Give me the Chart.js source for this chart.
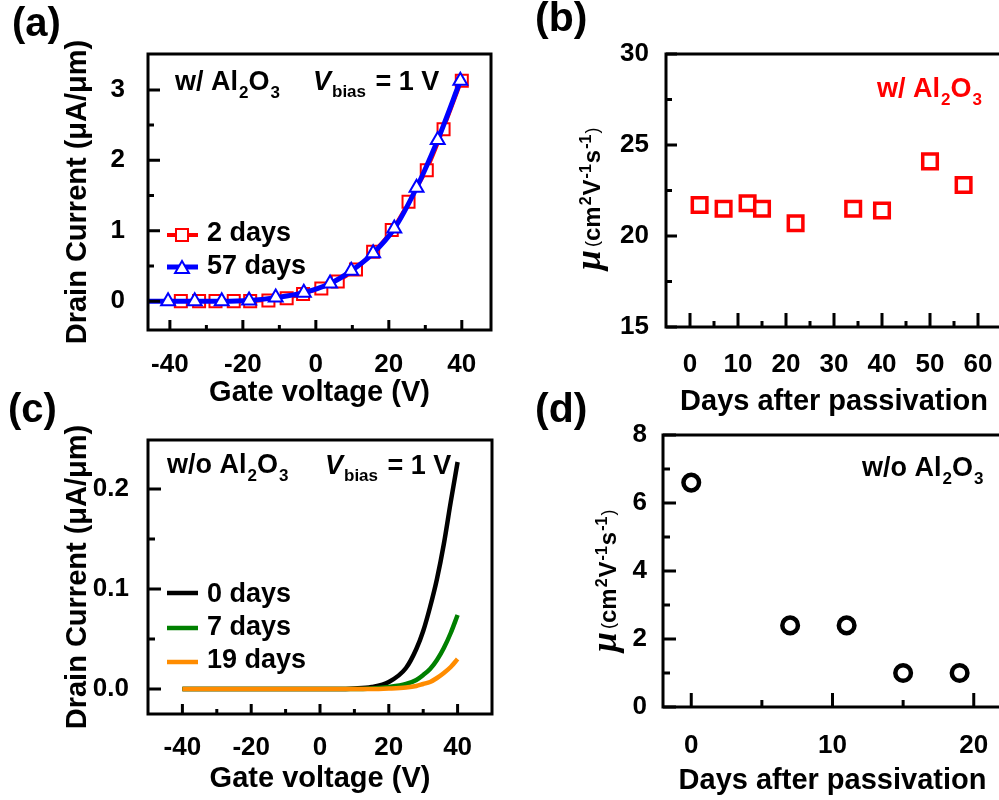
<!DOCTYPE html>
<html><head><meta charset="utf-8">
<script src="https://cdn.jsdelivr.net/npm/chart.js@4.4.1/dist/chart.umd.min.js"></script>
<style>
html,body{margin:0;padding:0;background:#fff;}
body{width:999px;height:800px;overflow:hidden;position:relative;}
canvas{position:absolute;}
</style></head><body>
<canvas id="cA" width="500" height="420" style="left:0;top:0"></canvas>
<canvas id="cB" width="520" height="420" style="left:500px;top:0"></canvas>
<canvas id="cC" width="500" height="420" style="left:0;top:380px"></canvas>
<canvas id="cD" width="520" height="420" style="left:500px;top:380px"></canvas>
<script>
// ---------------- DATA ----------------
// (a) with Al2O3 transfer curves
const gateA_2days  = [-46, -37, -32, -27.5, -22.5, -18, -13, -8, -3.5, 1.5, 6, 11, 15.7, 20.8, 25.4, 30.4, 35, 40];
const currA_2days  = [0, 0, 0, 0, 0, 0, 0.01, 0.04, 0.1, 0.18, 0.28, 0.45, 0.7, 1.01, 1.41, 1.86, 2.44, 3.13];
const gateA_57days = [-46, -40.5, -33.2, -25.8, -18.3, -11, -3.3, 3.9, 9.7, 15.7, 21.5, 27.6, 33.4, 39.6];
const currA_57days = [0, 0, 0, 0, 0.01, 0.05, 0.12, 0.25, 0.43, 0.68, 1.03, 1.61, 2.29, 3.13];
const xTicksA = [-40, -20, 0, 20, 40];
const yTicksA = [0, 1, 2, 3];

// (b) mobility with Al2O3
const daysB = [2, 7, 12, 15, 22, 34, 40, 50, 57];
const mobB  = [21.7, 21.5, 21.8, 21.5, 20.7, 21.5, 21.4, 24.1, 22.8];
const xTicksB = [0, 10, 20, 30, 40, 50, 60];
const yTicksB = [15, 20, 25, 30];

// (c) without Al2O3 transfer curves
const gateC   = [-40, -35, -30, -25, -20, -15, -10, -5, 0, 5, 10, 15, 20, 25, 28, 30, 32, 34, 36, 38, 40];
const currC_0 = [0, 0, 0, 0, 0, 0, 0, 0, 0, 0, 0.0005, 0.002, 0.007, 0.021, 0.04, 0.058, 0.082, 0.11, 0.145, 0.187, 0.227];
const currC_7 = [0, 0, 0, 0, 0, 0, 0, 0, 0, 0, 0, 0.0005, 0.002, 0.005, 0.009, 0.014, 0.02, 0.029, 0.041, 0.056, 0.074];
const currC_19= [0, 0, 0, 0, 0, 0, 0, 0, 0, 0, 0, 0, 0.0005, 0.0015, 0.003, 0.005, 0.007, 0.011, 0.016, 0.022, 0.030];
const xTicksC = [-40, -20, 0, 20, 40];
const yTicksC = [0, 0.1, 0.2];

// (d) mobility without Al2O3
const daysD = [0, 7, 11, 15, 19];
const mobD  = [6.6, 2.4, 2.4, 1.0, 1.0];
const xTicksD = [0, 10, 20];
const yTicksD = [0, 2, 4, 6, 8];

// ---------------- HELPERS ----------------
const SANS = '"Liberation Sans", Arial, sans-serif';
const SERIF = '"Liberation Serif", "Times New Roman", serif';
const F = (style, size, fam) => `${style} ${size}px ${fam || SANS}`;
Chart.defaults.font.family = SANS;
Chart.defaults.font.weight = 'bold';
Chart.defaults.color = '#000';

const pts = (xs, ys) => xs.map((x, i) => ({x, y: ys[i]}));

function rich(ctx, x, y, parts, rot) {
  ctx.save();
  ctx.translate(x, y);
  if (rot) ctx.rotate(rot);
  let cx = 0;
  for (const p of parts) {
    cx += p.gap || 0;
    ctx.font = p.font;
    ctx.fillStyle = p.color || '#000';
    ctx.textBaseline = 'alphabetic';
    ctx.textAlign = 'left';
    ctx.fillText(p.t, cx, p.dy || 0);
    cx += ctx.measureText(p.t).width;
  }
  ctx.restore();
}

function drawMarker(ctx, style, x, y, r, color, lw) {
  ctx.fillStyle = '#fff'; ctx.strokeStyle = color; ctx.lineWidth = lw;
  Chart.helpers.drawPoint(ctx, {pointStyle: style, radius: r, borderWidth: lw, rotation: 0}, x, y);
}

const framePlugin = {
  id: 'frame',
  afterDatasetsDraw(chart, args, o) {
    const {ctx, chartArea: a, scales: {x, y}} = chart;
    ctx.save();
    ctx.strokeStyle = '#000';
    ctx.lineWidth = o.lw;
    ctx.lineCap = 'butt';
    ctx.beginPath();
    x.ticks.forEach(t => { const p = x.getPixelForValue(t.value); ctx.moveTo(p, a.bottom); ctx.lineTo(p, a.bottom - o.xMajor); });
    (o.xMinorVals || []).forEach(v => { const p = x.getPixelForValue(v); ctx.moveTo(p, a.bottom); ctx.lineTo(p, a.bottom - o.xMinor); });
    y.ticks.forEach(t => { const p = y.getPixelForValue(t.value); ctx.moveTo(a.left, p); ctx.lineTo(a.left + o.yMajor, p); });
    (o.yMinorVals || []).forEach(v => { const p = y.getPixelForValue(v); ctx.moveTo(a.left, p); ctx.lineTo(a.left + o.yMinor, p); });
    ctx.stroke();
    ctx.strokeRect(a.left, a.top, a.right - a.left, a.bottom - a.top);
    ctx.restore();
  }
};

const notesPlugin = {
  id: 'notes',
  afterDraw(chart, args, o) {
    const ctx = chart.ctx;
    (o.items || []).forEach(it => {
      ctx.save();
      if (it.type === 'line') {
        ctx.strokeStyle = it.color; ctx.lineWidth = it.lw; ctx.lineCap = 'butt';
        ctx.beginPath(); ctx.moveTo(it.x1, it.y); ctx.lineTo(it.x2, it.y); ctx.stroke();
      } else if (it.type === 'marker') {
        drawMarker(ctx, it.style, it.x, it.y, it.r, it.color, it.lw);
      } else {
        rich(ctx, it.x, it.y, it.parts, it.rot || 0);
      }
      ctx.restore();
    });
  }
};
Chart.register(framePlugin, notesPlugin);

function axis(cfg) {
  const s = {
    type: 'linear', min: cfg.min, max: cfg.max,
    grid: {display: false}, border: {display: false},
    afterBuildTicks: sc => { sc.ticks = cfg.ticks.map(v => ({value: v})); },
    ticks: {font: {size: 26, weight: 'bold'}, padding: cfg.pad, color: '#000', autoSkip: false, maxRotation: 0,
            callback: cfg.fmt || (v => String(v))},
    title: cfg.title ? {display: true, text: cfg.title, color: '#000', font: {size: 29, weight: 'bold'}, padding: cfg.titlePad} : {display: false}
  };
  if (cfg.h !== undefined) s.afterFit = sc => { sc.height = cfg.h; };
  if (cfg.w !== undefined) s.afterFit = sc => { sc.width = cfg.w; };
  return s;
}

function baseOpts(box, scales, frame, notes) {
  return {
    responsive: false, animation: false, devicePixelRatio: 1,
    layout: {autoPadding: false, padding: {left: 0, top: box.t, right: box.W - box.r, bottom: 0}},
    scales,
    plugins: {legend: {display: false}, tooltip: {enabled: false}, frame, notes: {items: notes}}
  };
}

const subParts = (pre, color) => [
  {t: pre, font: F('bold', 27), color},
  {t: '2', font: F('bold', 17), dy: 8, color, gap: 1},
  {t: 'O', font: F('bold', 27), color},
  {t: '3', font: F('bold', 17), dy: 8, color, gap: 1}
];
const vbias = [
  {t: 'V', font: F('italic bold', 27)},
  {t: 'bias', font: F('bold', 17), dy: 7, gap: 1},
  {t: ' = 1 V', font: F('bold', 27), gap: 2}
];
const muTitle = [
  {t: 'μ', font: F('italic bold', 36, SERIF)},
  {t: '(', font: F('normal', 18), gap: 3, dy: -2},
  {t: 'cm', font: F('bold', 24)},
  {t: '2', font: F('bold', 16), dy: -9, gap: 1},
  {t: 'V', font: F('bold', 24), gap: 1},
  {t: '-1', font: F('bold', 16), dy: -9, gap: 1},
  {t: 's', font: F('bold', 24), gap: 1},
  {t: '-1', font: F('bold', 16), dy: -9, gap: 1},
  {t: ')', font: F('normal', 18), dy: -2, gap: 1}
];

// ---------------- (a) ----------------
{
  const box = {W: 500, H: 420, l: 148, r: 491, t: 54, b: 330};
  new Chart(document.getElementById('cA'), {
    type: 'line',
    data: {datasets: [
      {label: '57 days', data: pts(gateA_57days, currA_57days), order: 0,
       borderColor: '#0000ff', borderWidth: 5, cubicInterpolationMode: 'monotone',
       pointStyle: 'triangle', pointRadius: c => c.dataIndex === 0 ? 0 : 8,
       pointBorderColor: '#0000ff', pointBackgroundColor: '#fff', pointBorderWidth: 2},
      {label: '2 days', data: pts(gateA_2days, currA_2days), order: 1,
       borderColor: '#ff0000', borderWidth: 3, cubicInterpolationMode: 'monotone',
       pointStyle: 'rect', pointRadius: c => c.dataIndex === 0 ? 0 : 8.5,
       pointBorderColor: '#ff0000', pointBackgroundColor: '#fff', pointBorderWidth: 2}
    ]},
    options: baseOpts(box, {
      x: axis({min: -46, max: 48, ticks: xTicksA, h: box.H - box.b, pad: 11, title: 'Gate voltage (V)', titlePad: {top: 0, bottom: 10.1}}),
      y: axis({min: -0.41, max: 3.51, ticks: yTicksA, w: box.l, pad: 15, title: 'Drain Current (μA/μm)', titlePad: {top: 60.1, bottom: 0}})
    }, {lw: 3, xMajor: 10, xMinor: 5, yMajor: 12, yMinor: 6, xMinorVals: [-30, -10, 10, 30], yMinorVals: [0.5, 1.5, 2.5]}, [
      {x: 12, y: 35.5, parts: [{t: '(a)', font: F('bold', 40)}]},
      {x: 175, y: 90, parts: subParts('w/ Al', '#000')},
      {x: 313, y: 90, parts: vbias},
      {type: 'line', x1: 167, x2: 198, y: 235, color: '#ff0000', lw: 4},
      {type: 'marker', style: 'rect', x: 182, y: 235, r: 8.5, color: '#ff0000', lw: 2},
      {type: 'line', x1: 167, x2: 198, y: 267, color: '#0000ff', lw: 5},
      {type: 'marker', style: 'triangle', x: 182, y: 269, r: 8, color: '#0000ff', lw: 2},
      {x: 207, y: 241, parts: [{t: '2 days', font: F('bold', 27)}]},
      {x: 207, y: 274, parts: [{t: '57 days', font: F('bold', 27)}]}
    ])
  });
}

// ---------------- (b) ----------------
{
  const box = {W: 520, H: 420, l: 166, r: 502, t: 54, b: 327};
  new Chart(document.getElementById('cB'), {
    type: 'line',
    data: {datasets: [
      {label: 'w/ Al2O3', data: pts(daysB, mobB), showLine: false,
       pointStyle: 'rect', pointRadius: 10.3, pointBorderColor: '#ff0000', pointBackgroundColor: '#fff', pointBorderWidth: 3.5}
    ]},
    options: baseOpts(box, {
      x: axis({min: -5, max: 65, ticks: xTicksB, h: box.H - box.b, pad: 14, title: 'Days after passivation', titlePad: {top: 0, bottom: 0.6}}),
      y: axis({min: 15, max: 30, ticks: yTicksB, w: box.l, pad: 9})
    }, {lw: 3, xMajor: 14, xMinor: 6, yMajor: 11, yMinor: 6, xMinorVals: [5, 15, 25, 35, 45, 55], yMinorVals: [17.5, 22.5, 27.5]}, [
      {x: 35, y: 31, parts: [{t: '(b)', font: F('bold', 41)}]},
      {x: 377, y: 97, parts: subParts('w/ Al', '#ff0000')},
      {x: 100, y: 270, rot: -Math.PI / 2, parts: muTitle}
    ])
  });
}

// ---------------- (c) ----------------
{
  const box = {W: 500, H: 420, l: 148, r: 492, t: 60, b: 334};
  new Chart(document.getElementById('cC'), {
    type: 'line',
    data: {datasets: [
      {label: '19 days', data: pts(gateC, currC_19), order: 0, borderColor: '#ff8c00', borderWidth: 4.5, pointRadius: 0, cubicInterpolationMode: 'monotone'},
      {label: '7 days', data: pts(gateC, currC_7), order: 1, borderColor: '#008000', borderWidth: 4.5, pointRadius: 0, cubicInterpolationMode: 'monotone'},
      {label: '0 days', data: pts(gateC, currC_0), order: 2, borderColor: '#000000', borderWidth: 4.5, pointRadius: 0, cubicInterpolationMode: 'monotone'}
    ]},
    options: baseOpts(box, {
      x: axis({min: -50, max: 50, ticks: xTicksC, h: box.H - box.b, pad: 10.6, title: 'Gate voltage (V)', titlePad: {top: 0, bottom: 3.6}}),
      y: axis({min: -0.025, max: 0.249, ticks: yTicksC, w: box.l, pad: 11, fmt: v => Number(v).toFixed(1), title: 'Drain Current (μA/μm)', titlePad: {top: 60.1, bottom: 0}})
    }, {lw: 3, xMajor: 10, xMinor: 5, yMajor: 13, yMinor: 7, xMinorVals: [-30, -10, 10, 30], yMinorVals: [0.05, 0.15]}, [
      {x: 8, y: 42, parts: [{t: '(c)', font: F('bold', 40)}]},
      {x: 167, y: 93, parts: subParts('w/o Al', '#000')},
      {x: 325, y: 94, parts: vbias},
      {type: 'line', x1: 167, x2: 198, y: 213, color: '#000000', lw: 4.5},
      {type: 'line', x1: 167, x2: 198, y: 248, color: '#008000', lw: 4.5},
      {type: 'line', x1: 167, x2: 198, y: 282, color: '#ff8c00', lw: 4.5},
      {x: 207, y: 222, parts: [{t: '0 days', font: F('bold', 27)}]},
      {x: 207, y: 255, parts: [{t: '7 days', font: F('bold', 27)}]},
      {x: 207, y: 288, parts: [{t: '19 days', font: F('bold', 27)}]}
    ])
  });
}

// ---------------- (d) ----------------
{
  const box = {W: 520, H: 420, l: 163, r: 502, t: 55, b: 327};
  new Chart(document.getElementById('cD'), {
    type: 'line',
    data: {datasets: [
      {label: 'w/o Al2O3', data: pts(daysD, mobD), showLine: false,
       pointStyle: 'circle', pointRadius: 7.8, pointBorderColor: '#000', pointBackgroundColor: '#fff', pointBorderWidth: 4.5}
    ]},
    options: baseOpts(box, {
      x: axis({min: -2, max: 22, ticks: xTicksD, h: box.H - box.b, pad: 15, title: 'Days after passivation', titlePad: {top: 0, bottom: 1.6}}),
      y: axis({min: 0, max: 8, ticks: yTicksD, w: box.l, pad: 8})
    }, {lw: 3, xMajor: 14, xMinor: 7, yMajor: 13, yMinor: 7, xMinorVals: [5, 15], yMinorVals: [1, 3, 5, 7]}, [
      {x: 35, y: 42, parts: [{t: '(d)', font: F('bold', 41)}]},
      {x: 362, y: 96, parts: subParts('w/o Al', '#000')},
      {x: 116, y: 272, rot: -Math.PI / 2, parts: muTitle}
    ])
  });
}
</script>
</body></html>
